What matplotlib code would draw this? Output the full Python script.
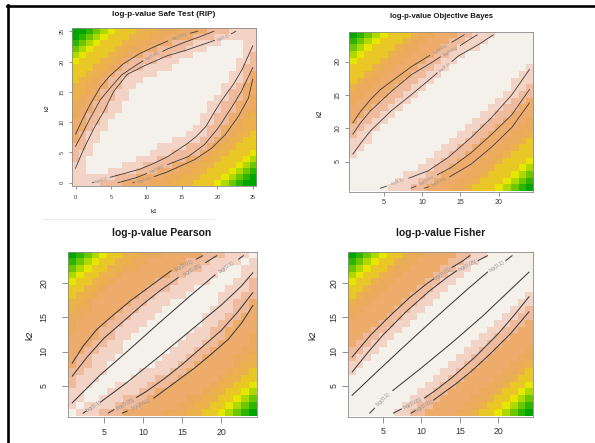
import numpy as np
import matplotlib
matplotlib.use("Agg")
import matplotlib.pyplot as plt
from matplotlib.colors import ListedColormap, BoundaryNorm
from matplotlib.lines import Line2D

plt.rcParams["font.family"] = ["Liberation Sans", "DejaVu Sans"]

# colour level of each cell (0 = log-p near 0 ... b = most negative).
# one string per row, top row (largest k2) first, columns k1 ascending.
safe_rows = [
    "bba98766655544433332221111",
    "ba987666555443333222111111",
    "a9876665544333222111100011",
    "98766655443322221110000011",
    "87666554332222111000000012",
    "76665543222211100000000112",
    "66655432221111000000000122",
    "66554322111100000000001123",
    "65543221110000000000001123",
    "55443221100000000000011233",
    "55432211000000000000012233",
    "54332211000000000000112234",
    "44322110000000000001122334",
    "43322110000000000001122344",
    "43221100000000000011223345",
    "33221000000000000011223455",
    "33211000000000000112234455",
    "32110000000000001112234556",
    "32110000000000111122345566",
    "22100000000011112223455666",
    "21100000000111222234556667",
    "21000000011122223345566678",
    "11000001112222334455666789",
    "1100011112223334455666789a",
    "111111222333344555666789ab",
    "11112223333444555666789abb",
]

bayes_rows = [
    "ba9876665443332211100000",
    "a98766654433322111000000",
    "987666544333221110000000",
    "876665443332211000000000",
    "766654433322110000000000",
    "666544333221100000000001",
    "665443332211000000000011",
    "654433322110000000000111",
    "544333221100000000000112",
    "443332211000000000001122",
    "433322110000000000011223",
    "333221100000000000112233",
    "332211000000000001122333",
    "322110000000000011223334",
    "221100000000000112233344",
    "211000000000001122333445",
    "111000000000011223334456",
    "110000000000112233344566",
    "100000000001122333445666",
    "000000000011223334456667",
    "000000000112233344566678",
    "000000011122333445666789",
    "00000011122333445666789a",
    "0000011122333445666789ab",
]

pearson_rows = [
    "ba9876655444333332221110",
    "a98766554433333222111101",
    "987665544333332221110011",
    "876655433333322111100011",
    "766554333332221111000112",
    "665543333322211100001112",
    "655433333221111000011122",
    "554333332211100000011223",
    "544333322111000000111223",
    "443333221110000001112233",
    "433332211100000001122333",
    "433322111000000011223333",
    "333322110000000111223334",
    "333221100000001112233334",
    "332211100000011122333344",
    "322111000000111223333445",
    "322110000001112233333455",
    "221110000111122333334556",
    "211100001112223333345566",
    "211000111122233333455667",
    "110001111223333334556678",
    "110011122233333445566789",
    "10111122233333445566789a",
    "0111222333334445566789ab",
]

fisher_rows = [
    "ba9876654433332211000000",
    "a98766544333322110000000",
    "987665443333221100000000",
    "876654433332211000000000",
    "766544333322110000000000",
    "665443333221100000000000",
    "654433332211000000000001",
    "544333322110000000000011",
    "443333221100000000000112",
    "433332211000000000001122",
    "333322110000000000011223",
    "333221100000000000112233",
    "332211000000000001122333",
    "322110000000000011223333",
    "221100000000000112233334",
    "211000000000001122333344",
    "110000000000011223333445",
    "100000000000112233334456",
    "000000000001122333344566",
    "000000000011223333445667",
    "000000000112233334456678",
    "000000001122333344566789",
    "00000001122333344566789a",
    "0000001122333344566789ab",
]

# contour lines (k1, k2), None = gap where the label sits
safe_lines = [
    ("log(0.01)", [(0, 8), (1, 10.5), (2, 12.8), (3.5, 15.8), (4.8, 17.6), (6.7, 19.6), (9, 21.3),
                   (11.4, 22.6), (13, 23.4), None, (16.2, 24.7), (17.2, 25)], (14.6, 24.1)),
    ("log(0.05)", [(0, 6), (1, 8.2), (2, 10.5), (3.5, 13.7), (5, 15.8), (6.5, 17.8), (8.8, 19.6),
                   (9.5, 20.1), None, (12.3, 21.7), (13, 22.1), (15.4, 23.2), (17.5, 24.1), (19.5, 25)], (10.9, 20.9)),
    ("log(0.1)", [(0, 2.4), (1.2, 5.7), (2.6, 9), (4, 11.8), (5.4, 15.1), (7.3, 17.9), (9.7, 19.3),
                  (13, 21), (15.4, 21.8), (19.6, 23.5), None, (22, 24.6), (22.6, 25)], (20.8, 24.0)),
    ("log(0.1)", [(2.4, 0), (2.6, 0.08), None, (4.9, 0.9), (6.5, 1.4), (9, 2.2), (10.9, 3.1), (13, 4.3),
                  (15.7, 6.4), (17, 7.6), (18.4, 9.3), (19.5, 11.5), (20.5, 13.4), (22.3, 16.3),
                  (23.5, 18.7), (25, 22.6)], (3.7, 0.5)),
    ("log(0.05)", [(6, 0), (8.5, 0.8), (10, 1.5), None, (13, 3.0), (15.9, 4.3), (18.2, 6.3), (20.1, 9),
                   (22, 12.4), (23.4, 15.1), (25, 19)], (11.5, 2.25)),
    ("log(0.01)", [(8.1, 0), (8.3, 0.08), None, (11.1, 1.0), (13, 1.8), (16.8, 3.8), (19.2, 5.7),
                   (21.1, 7.9), (23, 11), (24.4, 14), (25, 17.1)], (9.7, 0.5)),
]

bayes_lines = [
    ("log(0.01)", [(1, 10.8), (2, 12.5), (3.3, 14.3), (4.6, 15.8), (6, 17), (8.6, 19.2), (11, 20.9),
                   None, (13.9, 22.9), (15.5, 24)], (12.45, 21.9)),
    ("log(0.05)", [(1, 9.1), (2, 10.8), (3.3, 12.6), (6, 15.5), (8.6, 18), (11.2, 19.8), (12.4, 20.7),
                   None, (15, 22.4), (16.2, 23.3), (17.2, 24)], (13.7, 21.55)),
    ("log(0.1)", [(1, 6.1), (2, 7.7), (3.3, 9.6), (6, 12.6), (8.6, 15), (11.2, 17.5), (12, 18.3),
                  None, (13.9, 20), (14.7, 20.8), (17.3, 22.5), (19.3, 24)], (12.95, 19.15)),
    ("log(0.1)", [(4.6, 1), (5.4, 1.3), None, (8.3, 2.5), (10.8, 3.6), (13.4, 5.6), (16.4, 8.6),
                  (19, 11.5), (21.7, 15), (24, 18.8)], (6.85, 1.9)),
    ("log(0.05)", [(8.6, 1), (9.2, 1.3), None, (12, 3), (13.8, 4.1), (16.4, 6.3), (19, 9), (21.7, 12),
                   (24, 15.8)], (10.6, 2.15)),
    ("log(0.01)", [(10.3, 1), (10.9, 1.2), None, (13.6, 2.7), (16.4, 4.6), (19, 7.1), (21.7, 10.1),
                   (24, 13.8)], (12.25, 1.95)),
]

pearson_lines = [
    ("log(0.01)", [(1, 8.3), (2.4, 10.8), (4.1, 13.2), (6.3, 15.4), (8.4, 17.4), (11, 19.6), (13.6, 21.8),
                   None, (16.8, 23.5), (17.6, 24)], (15.2, 22.65)),
    ("log(0.05)", [(1, 6.4), (2.9, 9.2), (5, 11.9), (7.6, 14.5), (10.1, 17), (12.3, 19), (14.5, 20.8),
                   None, (18, 23), (19.4, 24)], (16.25, 21.9)),
    ("log(0.1)", [(1, 2.5), (4.5, 6.5), (8, 10), (12, 14.1), (16, 18.1), (19.2, 21.2), None, (22.2, 23.5),
                  (22.8, 24)], (20.7, 22.35)),
    ("log(0.1)", [(2.4, 1), (2.8, 1.3), None, (4.6, 2.6), (8, 5.5), (12, 9.2), (16, 13), (20, 16.8),
                  (22.5, 19.5), (24, 21.5)], (3.7, 1.95)),
    ("log(0.05)", [(5.6, 1), (6.3, 1.5), None, (9.2, 3.3), (10.5, 4.2), (12.7, 6), (14.9, 8), (17.4, 10.5),
                   (20, 13.1), (22.1, 15.8), (24, 18.6)], (7.75, 2.4)),
    ("log(0.01)", [(7.4, 1), (8, 1.3), None, (11.4, 3.2), (14, 5.4), (16.6, 7.6), (18.7, 9.6), (20.9, 11.8),
                   (22.6, 14.2), (24, 16.7)], (9.7, 2.25)),
]

fisher_lines = [
    ("log(0.01)", [(1, 9.2), (3.4, 12.4), (6, 15.3), (8.5, 17.9), (10.7, 19.9), (11.6, 20.6), None,
                   (14, 22.3), (15.2, 23.1), (16.3, 24)], (12.8, 21.45)),
    ("log(0.05)", [(1, 7), (3, 9.8), (5, 12.4), (8, 15.8), (11, 18.8), (13.3, 20.8), (14.6, 21.8), None,
                   (17.4, 23.3), (18.6, 24)], (16, 22.55)),
    ("log(0.1)", [(1, 3.6), (4, 6.8), (8, 11), (12, 15.1), (16, 19.1), (18.6, 21.6), None, (21, 23.3),
                  (21.8, 24)], (19.8, 22.45)),
    ("log(0.1)", [(3.3, 1), (3.9, 1.7), None, (6.3, 4.3), (10, 7.6), (14, 11.3), (18, 15.2), (21, 18.4),
                  (24, 21.6)], (5.1, 3.0)),
    ("log(0.05)", [(6.4, 1), (7.4, 1.6), None, (10.4, 3.2), (11.7, 4.2), (14, 6.2), (17, 9.2), (20, 12.6),
                   (22, 15.2), (24, 18)], (8.9, 2.4)),
    ("log(0.01)", [(8.7, 1), (9.2, 1.35), None, (11.6, 2.9), (13.4, 4.4), (14.3, 5.1), (16.5, 7.1),
                   (19, 9.7), (21.6, 12.6), (24, 15.8)], (10.4, 2.1)),
]

# colour of each level, pale end first (terrain-like ramp as seen in the picture)
level_colors = ["#F4F1EA", "#F3D3C6", "#EFBB9C", "#EDAC6C", "#EBAB5C", "#EAB14C", "#E8C727",
                "#E6E600", "#ADD900", "#6CC600", "#2DB500", "#00A600"]
cmap = ListedColormap(level_colors)
norm = BoundaryNorm(np.arange(-0.5, 12.5, 1), cmap.N)

W, H = 595, 443
fig = plt.figure(figsize=(W / 100, H / 100), dpi=100, facecolor="white")


def rect(l, t, r, b):
    return [l / W, 1 - b / H, (r - l) / W, (b - t) / H]


def draw(ax, rows, k0, ticks, lines, fs, tick_len, xpad, ypad, cl_fs, lw):
    for r in rows:
        assert len(r) == len(rows), r
    grid = np.array([[int(c, 16) for c in r] for r in rows])
    lo, hi = k0 - 0.5, k0 + len(rows) - 0.5
    ax.imshow(grid, cmap=cmap, norm=norm, origin="upper", extent=(lo, hi, lo, hi),
              interpolation="nearest", aspect="auto")
    ax.set_xlim(lo, hi)
    ax.set_ylim(lo, hi)
    for text, pts, (lx, ly) in lines:
        xs = [np.nan if p is None else p[0] for p in pts]
        ys = [np.nan if p is None else p[1] for p in pts]
        ax.plot(xs, ys, color="#3c3c3c", lw=lw)
        i = pts.index(None)
        a = ax.transData.transform(pts[i - 1])
        b = ax.transData.transform(pts[i + 1])
        ang = np.degrees(np.arctan2(b[1] - a[1], b[0] - a[0]))
        ax.text(lx, ly, text, rotation=ang, rotation_mode="anchor", ha="center", va="center",
                fontsize=cl_fs, color="#8f8f8f", clip_on=True)
    ax.set_xticks(ticks)
    ax.set_yticks(ticks)
    ax.tick_params(direction="out", length=tick_len, width=0.5, color="#666666",
                   labelsize=fs, labelcolor="#333333")
    ax.tick_params(axis="x", pad=xpad)
    ax.tick_params(axis="y", pad=ypad, labelrotation=90)
    for t in ax.get_yticklabels():
        t.set_va("center")
    for s in ax.spines.values():
        s.set_color("#8c8c8c")
        s.set_linewidth(0.6)


ax1 = fig.add_axes(rect(72, 28.3, 256.3, 185.7))
draw(ax1, safe_rows, 0, [0, 5, 10, 15, 20, 25], safe_lines, 4, 2.5, 4.0, 2.8, 2.9, 0.6)
ax2 = fig.add_axes(rect(349, 31.5, 533.3, 191.5))
draw(ax2, bayes_rows, 1, [5, 10, 15, 20], bayes_lines, 5, 2.9, 2.7, 2.6, 3.1, 0.6)
ax3 = fig.add_axes(rect(68.3, 252.3, 256.7, 416.5))
draw(ax3, pearson_rows, 1, [5, 10, 15, 20], pearson_lines, 6.3, 4.3, 4.1, 9.8, 3.7, 0.75)
ax4 = fig.add_axes(rect(348.3, 252.3, 532.8, 416.5))
draw(ax4, fisher_rows, 1, [5, 10, 15, 20], fisher_lines, 6.3, 4.3, 3.0, 2.8, 3.7, 0.75)


def ftext(x, y, s, **kw):
    fig.text(x / W, 1 - y / H, s, ha="center", va="center", color="#1a1a1a", **kw)


ftext(164, 15, "log-p-value Safe Test (RIP)", fontsize=5.9, fontweight="bold")
ftext(441, 16.7, "log-p-value Objective Bayes", fontsize=5.6, fontweight="bold")
ftext(162, 233.3, "log-p-value Pearson", fontsize=7.5, fontweight="bold")
ftext(440.5, 232.7, "log-p-value Fisher", fontsize=7.4, fontweight="bold")
ftext(46.7, 108, "k2", fontsize=4.5, rotation=90)
ftext(154, 211.7, "k1", fontsize=4.5)
ftext(320, 113, "k2", fontsize=5, rotation=90)
ftext(30, 335, "k2", fontsize=6.5, rotation=90)
ftext(313.3, 335, "k2", fontsize=6.5, rotation=90)

# black frame of the screenshot (top and left) and the faint separator
fig.add_artist(Line2D([7 / W, 1], [1 - 5.5 / H, 1 - 5.5 / H], color="black", lw=1.9))
fig.add_artist(Line2D([7.5 / W, 7.5 / W], [0, 1 - 5 / H], color="black", lw=1.9))
fig.add_artist(Line2D([43 / W, 213 / W], [1 - 218.5 / H, 1 - 218.5 / H], color="#ececec", lw=0.7))

fig.savefig("out.png", dpi=100, facecolor="white")
